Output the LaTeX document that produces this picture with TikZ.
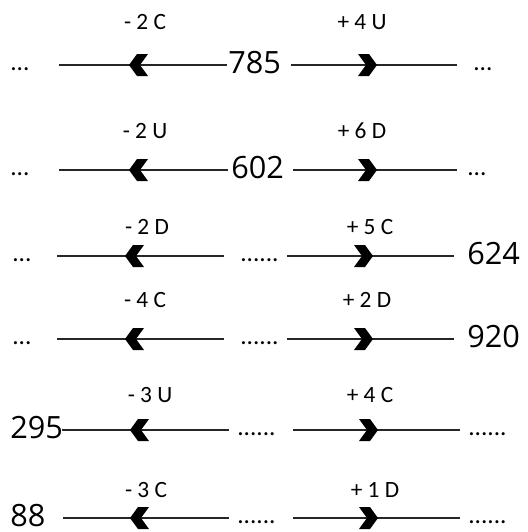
\documentclass[tikz,border=0pt]{standalone}
\usepackage{fontspec}
\setmainfont{Carlito}
\newfontfamily\numfont{Open Sans}
\begin{document}
\begin{tikzpicture}[x=0.75pt,y=-0.75pt,
  lbl/.style={inner sep=0pt,anchor=base,font=\fontsize{17.5pt}{19pt}\selectfont},
  num/.style={inner sep=0pt,anchor=base west,font=\numfont\fontsize{23pt}{26pt}\selectfont},
  dots/.style={inner sep=0pt,anchor=base west,font=\fontsize{19pt}{21pt}\selectfont},
  seg/.style={line width=0.9pt,black!85},
  larr/.pic={\fill (0,0)--(8,-11)--(19,-11)--(11,0)--(19,11)--(8,11)--cycle;},
  rarr/.pic={\fill (0,0)--(-8,-11)--(-19,-11)--(-11,0)--(-19,11)--(-8,11)--cycle;}]
\useasboundingbox (0,0) rectangle (528,532);
% ---------- Row 1 ----------
\node[dots] (d1l) at (10,70) {...};
\node[dots] (d1r) at (473,70) {...};
\node[num] (n1) at (228,73) {785};
\coordinate (a1) at (59,65); \coordinate (b1) at (227,65);
\coordinate (c1) at (291,65); \coordinate (e1) at (457,65);
\draw[seg] (a1) -- (b1); \draw[seg] (c1) -- (e1);
\pic at (129,65) {larr}; \pic at (377,65) {rarr};
\node[lbl] (l1a) at (145,29) {- 2 C};
\node[lbl] (l1b) at (362,29) {+ 4 U};
% ---------- Row 2 ----------
\node[dots] (d2l) at (10,175) {...};
\node[dots] (d2r) at (467,175) {...};
\node[num] (n2) at (231,178) {602};
\coordinate (a2) at (59,170); \coordinate (b2) at (228,170);
\coordinate (c2) at (293,170); \coordinate (e2) at (457,170);
\draw[seg] (a2) -- (b2); \draw[seg] (c2) -- (e2);
\pic at (129,170) {larr}; \pic at (377,170) {rarr};
\node[lbl] (l2a) at (145,138) {- 2 U};
\node[lbl] (l2b) at (362,138) {+ 6 D};
% ---------- Row 3 ----------
\node[dots] (d3l) at (12,261) {...};
\node[dots] (d3m) at (240,261) {......};
\node[num] (n3) at (467,264) {624};
\coordinate (a3) at (57,256); \coordinate (b3) at (224,256);
\coordinate (c3) at (287,256); \coordinate (e3) at (454,256);
\draw[seg] (a3) -- (b3); \draw[seg] (c3) -- (e3);
\pic at (125,256) {larr}; \pic at (373,256) {rarr};
\node[lbl] (l3a) at (147,234) {- 2 D};
\node[lbl] (l3b) at (370,234) {+ 5 C};
% ---------- Row 4 ----------
\node[dots] (d4l) at (12,344) {...};
\node[dots] (d4m) at (240,344) {......};
\node[num] (n4) at (467,347) {920};
\coordinate (a4) at (57,339); \coordinate (b4) at (224,339);
\coordinate (c4) at (287,339); \coordinate (e4) at (454,339);
\draw[seg] (a4) -- (b4); \draw[seg] (c4) -- (e4);
\pic at (125,339) {larr}; \pic at (373,339) {rarr};
\node[lbl] (l4a) at (145,307) {- 4 C};
\node[lbl] (l4b) at (367,307) {+ 2 D};
% ---------- Row 5 ----------
\node[num] (n5) at (10,438) {295};
\node[dots] (d5m) at (237,435) {......};
\node[dots] (d5r) at (468,435) {......};
\coordinate (a5) at (62,430); \coordinate (b5) at (229,430);
\coordinate (c5) at (293,430); \coordinate (e5) at (460,430);
\draw[seg] (a5) -- (b5); \draw[seg] (c5) -- (e5);
\pic at (130,430) {larr}; \pic at (378,430) {rarr};
\node[lbl] (l5a) at (150,402) {- 3 U};
\node[lbl] (l5b) at (370,402) {+ 4 C};
% ---------- Row 6 ----------
\node[num] (n6) at (10,526) {88};
\node[dots] (d6m) at (237,523) {......};
\node[dots] (d6r) at (468,523) {......};
\coordinate (a6) at (63,518); \coordinate (b6) at (229,518);
\coordinate (c6) at (293,518); \coordinate (e6) at (460,518);
\draw[seg] (a6) -- (b6); \draw[seg] (c6) -- (e6);
\pic at (130,518) {larr}; \pic at (378,518) {rarr};
\node[lbl] (l6a) at (146,497) {- 3 C};
\node[lbl] (l6b) at (375,497) {+ 1 D};
\end{tikzpicture}
\end{document}
